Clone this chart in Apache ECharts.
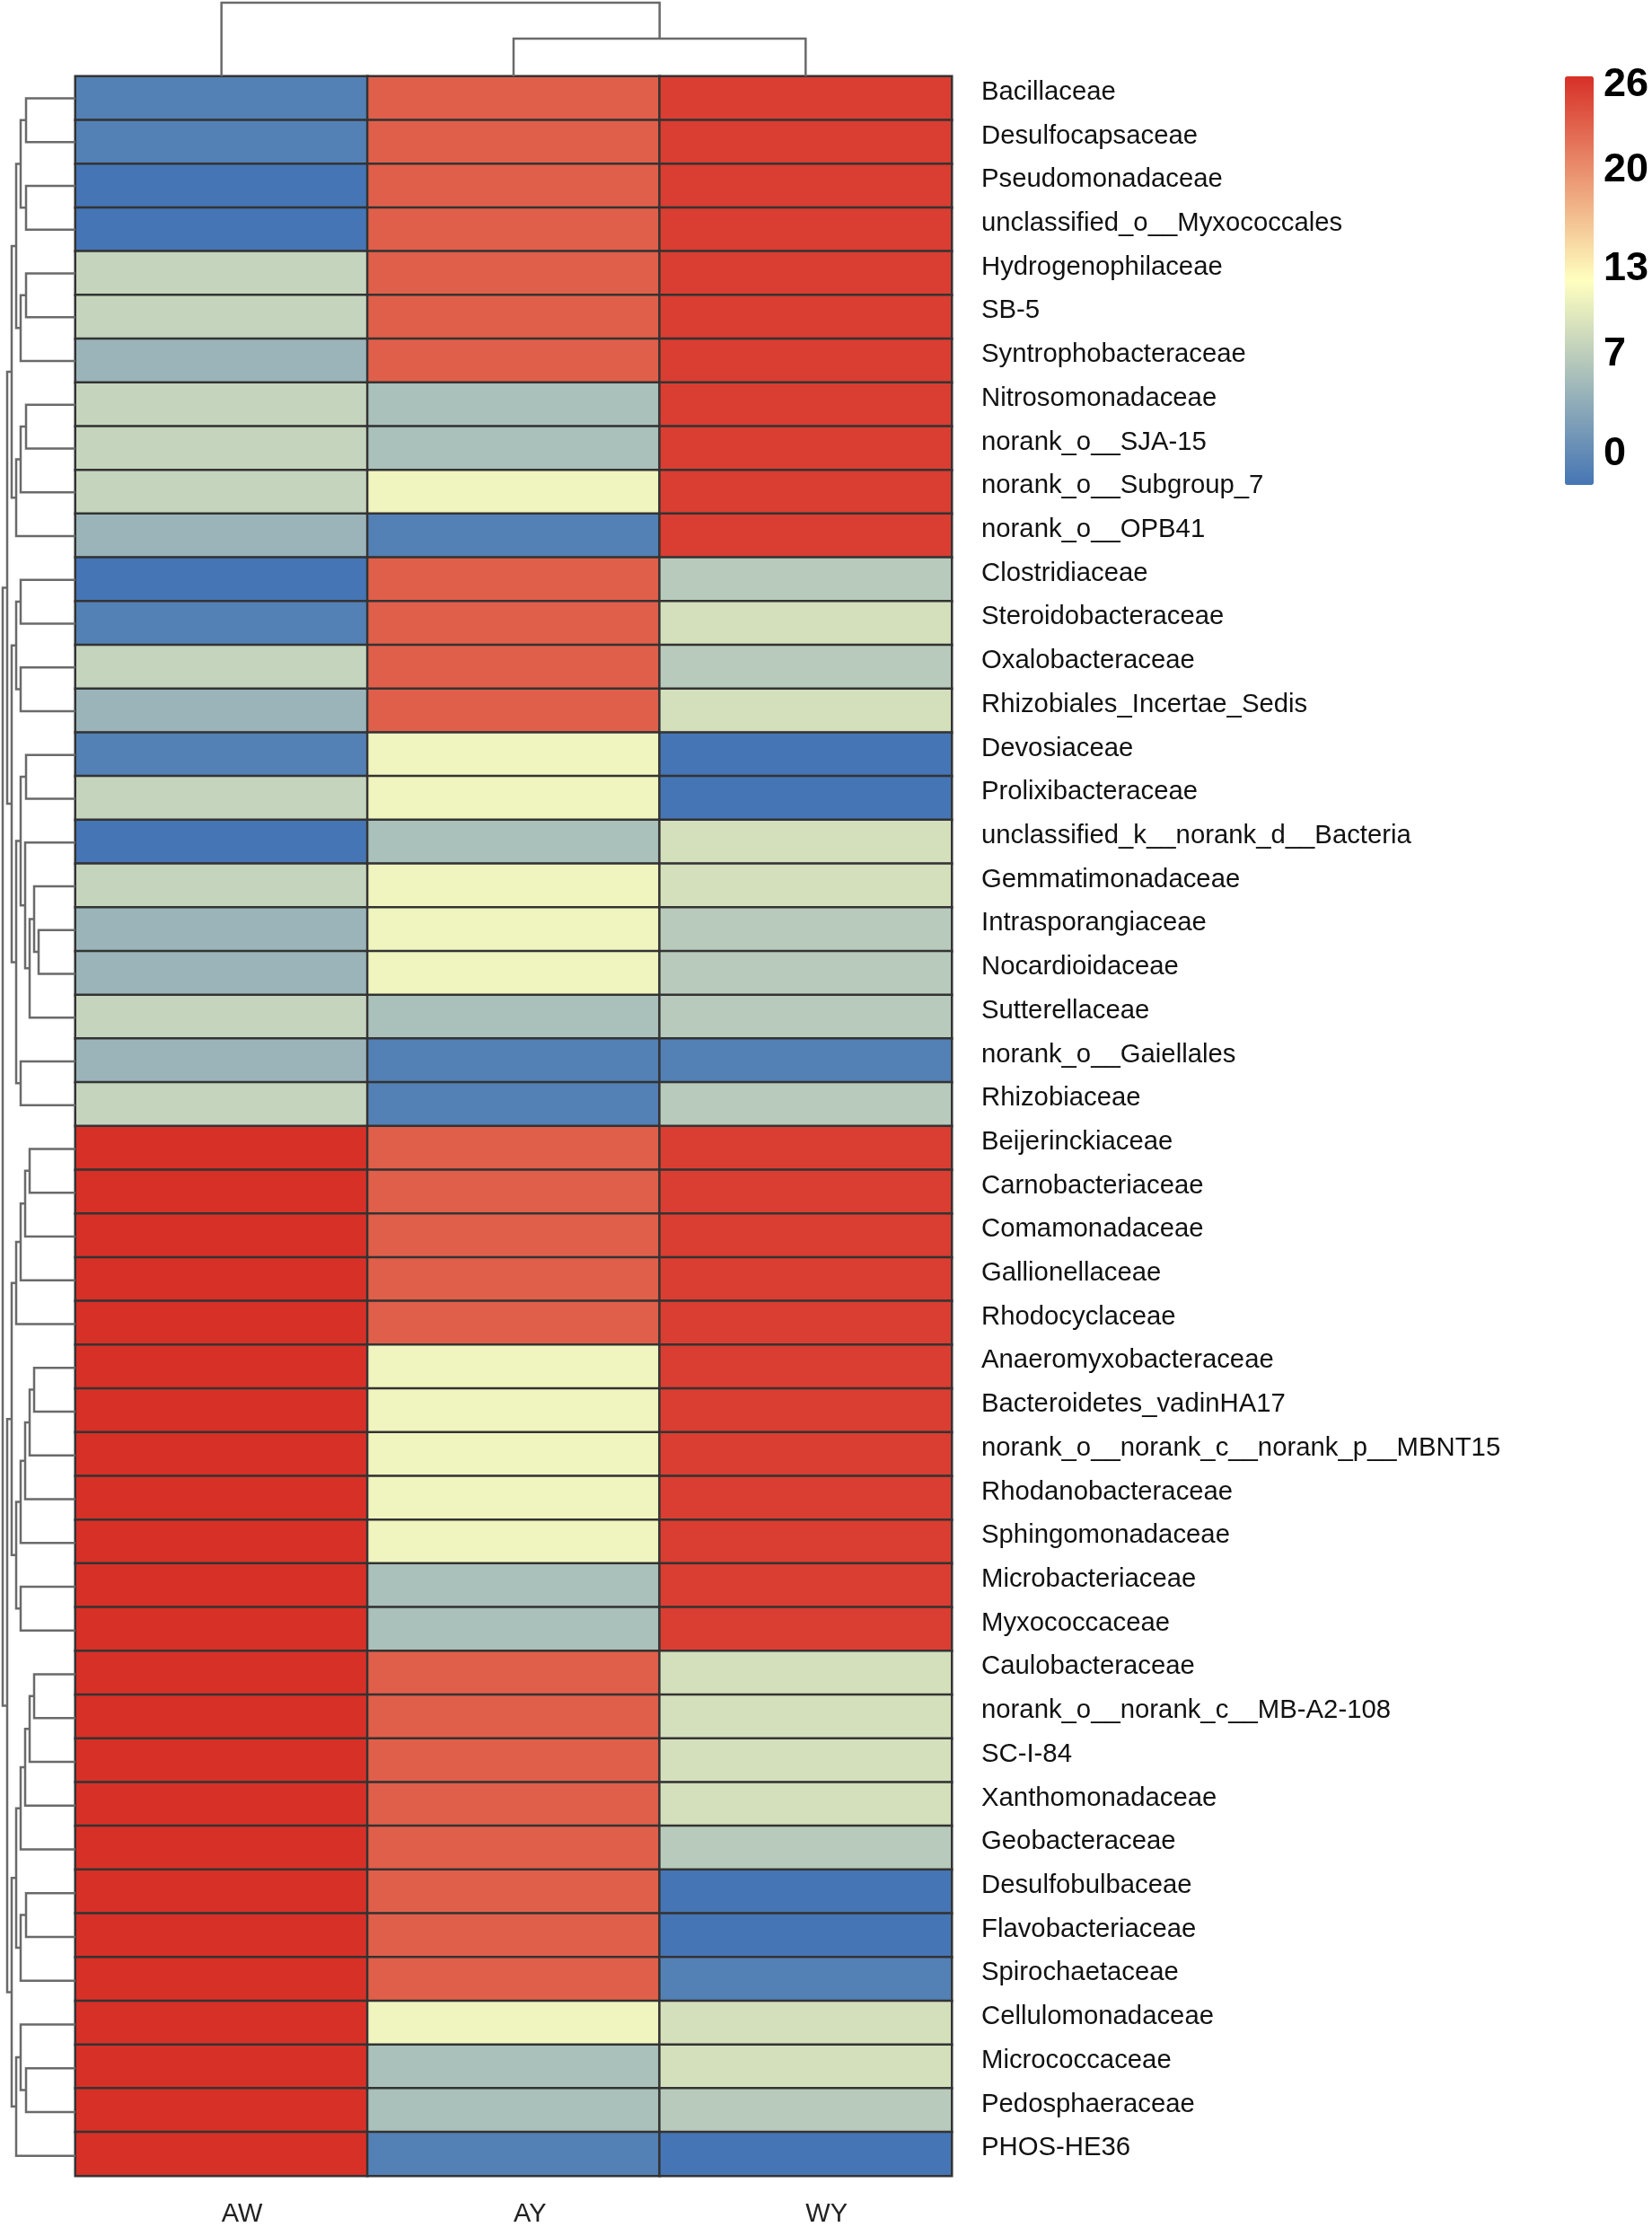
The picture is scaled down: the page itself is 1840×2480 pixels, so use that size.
<!DOCTYPE html>
<html>
<head>
<meta charset="utf-8">
<script src="https://cdn.jsdelivr.net/npm/echarts@6/dist/echarts.min.js"></script>
<style>html,body{margin:0;padding:0;background:#fff;}#c{width:1840px;height:2480px;}</style>
</head>
<body>
<div id="c"></div>
<script>
// ---- data ----
const samples = ['AW', 'AY', 'WY'];
const families = [
  'Bacillaceae','Desulfocapsaceae','Pseudomonadaceae','unclassified_o__Myxococcales',
  'Hydrogenophilaceae','SB-5','Syntrophobacteraceae','Nitrosomonadaceae','norank_o__SJA-15',
  'norank_o__Subgroup_7','norank_o__OPB41','Clostridiaceae','Steroidobacteraceae',
  'Oxalobacteraceae','Rhizobiales_Incertae_Sedis','Devosiaceae','Prolixibacteraceae',
  'unclassified_k__norank_d__Bacteria','Gemmatimonadaceae','Intrasporangiaceae',
  'Nocardioidaceae','Sutterellaceae','norank_o__Gaiellales','Rhizobiaceae',
  'Beijerinckiaceae','Carnobacteriaceae','Comamonadaceae','Gallionellaceae','Rhodocyclaceae',
  'Anaeromyxobacteraceae','Bacteroidetes_vadinHA17','norank_o__norank_c__norank_p__MBNT15',
  'Rhodanobacteraceae','Sphingomonadaceae','Microbacteriaceae','Myxococcaceae',
  'Caulobacteraceae','norank_o__norank_c__MB-A2-108','SC-I-84','Xanthomonadaceae',
  'Geobacteraceae','Desulfobulbaceae','Flavobacteriaceae','Spirochaetaceae',
  'Cellulomonadaceae','Micrococcaceae','Pedosphaeraceae','PHOS-HE36'
];
const valuesAW = [
  -1.1,-1.1,-2.2,-2.2, 7.7, 7.7, 4.4, 7.7, 7.7, 7.7, 4.4,-2.2,
  -1.1, 7.7, 4.4,-1.1, 7.7,-2.2, 7.7, 4.4, 4.4, 7.7, 4.4, 7.7,
  26.6,26.6,26.6,26.6,26.6,26.6,26.6,26.6,26.6,26.6,26.6,26.6,
  26.6,26.6,26.6,26.6,26.6,26.6,26.6,26.6,26.6,26.6,26.6,26.6
];
const valuesAY = [
  23.3,23.3,23.3,23.3,23.3,23.3,23.3, 5.6, 5.6,11.0,-1.1,23.3,
  23.3,23.3,23.3,11.0,11.0, 5.6,11.0,11.0,11.0, 5.6,-1.1,-1.1,
  23.3,23.3,23.3,23.3,23.3,11.0,11.0,11.0,11.0,11.0, 5.6, 5.6,
  23.3,23.3,23.3,23.3,23.3,23.3,23.3,23.3,11.0, 5.6, 5.6,-1.1
];
const valuesWY = [
  25.7,25.7,25.7,25.7,25.7,25.7,25.7,25.7,25.7,25.7,25.7, 6.7,
   8.9, 6.7, 8.9,-2.2,-2.2, 8.9, 8.9, 6.7, 6.7, 6.7,-1.1, 6.7,
  25.7,25.7,25.7,25.7,25.7,25.7,25.7,25.7,25.7,25.7,25.7,25.7,
   8.9, 8.9, 8.9, 8.9, 6.7,-2.2,-2.2,-1.1, 8.9, 8.9, 6.7,-2.2
];
const legendTicks = [0, 7, 13, 20, 26];
const scaleMin = -2.2, scaleMax = 26.6;

// row clustering (hclust style: negative = leaf -(i+1), positive = earlier merge number)
const rowMerge = [
  [-1,-2],[-3,-4],[1,2],[-5,-6],[4,-7],[3,5],[-8,-9],[7,-10],[8,-11],[6,9],
  [-12,-13],[-14,-15],[11,12],[-16,-17],[-20,-21],[-19,15],[16,-22],[-18,17],[14,18],[-23,-24],
  [19,20],[13,21],[10,22],[-25,-26],[24,-27],[25,-28],[26,-29],[-30,-31],[28,-32],[29,-33],
  [30,-34],[-35,-36],[31,32],[27,33],[-37,-38],[35,-39],[36,-40],[37,-41],[-42,-43],[39,-44],
  [38,40],[-46,-47],[-45,42],[43,-48],[41,44],[34,45],[23,46]
];
const rowHeight = [
  55,55,61,55,61,66,55,61,66,71,
  61,61,66,55,41,46,51,56,61,61,
  66,71,76,51,56,61,66,46,51,56,
  61,61,66,71,46,51,56,61,55,61,
  66,55,61,66,71,76,81
];
// column clustering
const colMerge = [[-2,-3],[-1,1]];
const colHeight = [42, 82];

// ---- build ----
const heatData = [];
const cols = [valuesAW, valuesAY, valuesWY];
cols.forEach((arr, ci) => arr.forEach((v, ri) => heatData.push([ci, ri, v])));

function dendroSegments(merge, height) {
  const pos = [], hts = [];
  const segs = [];
  const get = (id) => id < 0 ? [-id - 1, 0] : [pos[id - 1], hts[id - 1]];
  merge.forEach((m, k) => {
    const [pa, ha] = get(m[0]);
    const [pb, hb] = get(m[1]);
    const h = height[k];
    segs.push([pa, ha, pa, h, pb, h, pb, hb]);
    pos.push((pa + pb) / 2);
    hts.push(h);
  });
  return segs;
}
const rowSegs = dendroSegments(rowMerge, rowHeight);
const colSegs = dendroSegments(colMerge, colHeight);

const lineStyle = { stroke: '#6a6a6a', lineWidth: 2.5, fill: null };

const chart = echarts.init(document.getElementById('c'), null, { renderer: 'canvas' });
const FONT = 'Liberation Sans, Arial, Helvetica, sans-serif';

chart.setOption({
  backgroundColor: '#fff',
  animation: false,
  grid: [
    { left: 84, top: 85, width: 976, height: 2340, containLabel: false },   // heatmap
    { left: 0, top: 85, width: 84, height: 2340 },                          // row dendrogram
    { left: 84, top: 0, width: 976, height: 85 },                           // col dendrogram
    { left: 1743, top: 85, width: 32, height: 455 }                         // legend labels
  ],
  xAxis: [
    { gridIndex: 0, type: 'category', data: samples, position: 'bottom',
      axisLine: { show: false }, axisTick: { show: false }, splitLine: { show: false },
      axisLabel: { fontSize: 29, color: '#222', fontFamily: FONT, margin: 28, align: 'left' } },
    { gridIndex: 1, type: 'value', min: 0, max: 84, inverse: true, show: false },
    { gridIndex: 2, type: 'value', min: -0.5, max: 2.5, show: false },
    { gridIndex: 3, type: 'value', min: 0, max: 1, show: false }
  ],
  yAxis: [
    { gridIndex: 0, type: 'category', data: families, inverse: true, position: 'right',
      axisLine: { show: false }, axisTick: { show: false }, splitLine: { show: false },
      axisLabel: { fontSize: 29.3, color: '#111', fontFamily: FONT, margin: 33,
                   verticalAlign: 'bottom', lineHeight: 13 } },
    { gridIndex: 1, type: 'value', min: -0.5, max: 47.5, inverse: true, show: false },
    { gridIndex: 2, type: 'value', min: 0, max: 85, show: false },
    { gridIndex: 3, type: 'value', min: scaleMin, max: scaleMax, position: 'right',
      axisLine: { show: false }, axisTick: { show: false }, splitLine: { show: false },
      axisLabel: { customValues: legendTicks, fontSize: 45, fontWeight: 'bold', color: '#000',
                   fontFamily: FONT, margin: 11 } }
  ],
  visualMap: {
    type: 'continuous', min: scaleMin, max: scaleMax, seriesIndex: 0,
    calculable: false, orient: 'vertical', left: 1743, top: 85, padding: 0,
    itemWidth: 32, itemHeight: 455, text: null, showLabel: false,
    inRange: { color: ['#4575b4', '#ffffbf', '#d73027'] }
  },
  series: [
    {
      type: 'heatmap', xAxisIndex: 0, yAxisIndex: 0, data: heatData,
      itemStyle: { borderColor: '#333', borderWidth: 2.5 },
      emphasis: { disabled: true }, label: { show: false }
    },
    {
      type: 'custom', xAxisIndex: 1, yAxisIndex: 1, silent: true,
      data: rowSegs,
      renderItem: function (params, api) {
        const pts = [];
        for (let i = 0; i < 4; i++) pts.push(api.coord([api.value(2 * i + 1), api.value(2 * i)]));
        return { type: 'polyline', shape: { points: pts }, style: lineStyle };
      }
    },
    {
      type: 'custom', xAxisIndex: 2, yAxisIndex: 2, silent: true,
      data: colSegs,
      renderItem: function (params, api) {
        const pts = [];
        for (let i = 0; i < 4; i++) pts.push(api.coord([api.value(2 * i), api.value(2 * i + 1)]));
        return { type: 'polyline', shape: { points: pts }, style: lineStyle };
      }
    }
  ]
});
</script>
</body>
</html>
